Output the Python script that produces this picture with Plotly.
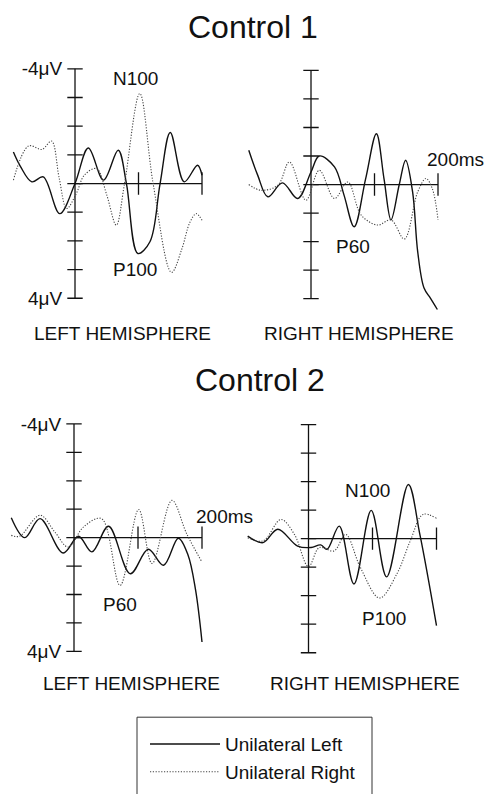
import plotly.graph_objects as go

W, H = 488, 794
FONT = "Liberation Sans, Arial, Helvetica, sans-serif"

# ---------------- data (time in ms, amplitude in µV; negative plotted up) ----
YTICKS = [-4, -3, -2, -1, 0, 1, 2, 3, 4]
YTICK_LABELS = ["-4\u03bcV", "4\u03bcV"]
XTICKS = [100, 200]
X_AXIS_SPAN = [0, 200]

# Control 1 - left hemisphere
C1L_LEFT_T = [-97, -86, -68, -50, -24, 0, 21, 45, 68, 81, 99, 118, 134, 150, 172, 193, 200]
C1L_LEFT_V = [-1.1, -0.6, -0.06, -0.23, 1.05, 0.0, -1.24, -0.12, -1.16, 0.0, 2.44, 2.03, 0.0, -1.78, -0.06, -0.64, -0.29]
C1L_RIGHT_T = [-97, -73, -52, -37, -25, -13, 2, 15, 34, 50, 65, 78, 102, 123, 152, 168, 181, 191, 200]
C1L_RIGHT_V = [-0.12, -1.31, -1.19, -1.48, -0.2, 0.87, 0.35, -0.3, -0.52, 0.4, 1.45, 0.0, -3.14, 0.0, 3.1, 2.3, 1.35, 1.05, 1.28]

# Control 1 - right hemisphere
C1R_LEFT_T = [-98, -84, -68, -45, -21, 0, 13, 37, 52, 68, 86, 103, 115, 126, 139, 149, 160, 168, 178, 188, 199]
C1R_LEFT_V = [-1.2, -0.33, 0.43, -0.06, 0.49, -0.44, -1.0, -0.62, 0.37, 1.48, -0.2, -1.78, -0.2, 1.24, 0.0, -0.85, 0.26, 2.35, 3.63, 3.98, 4.38]
C1R_RIGHT_T = [-98, -79, -52, -34, -8, 13, 37, 58, 79, 105, 126, 147, 168, 181, 191, 200]
C1R_RIGHT_V = [0.0, 0.2, 0.02, -0.79, 0.55, -0.5, 0.49, -0.09, 1.07, 1.42, 1.24, 1.91, 0.26, -0.21, 0.14, 1.24]

# Control 2 - left hemisphere
C2L_LEFT_T = [-98, -77, -53, -17, 7, 28, 54, 88, 116, 140, 163, 178, 190, 200]
C2L_LEFT_V = [-0.7, 0.0, -0.67, 0.54, -0.05, 0.5, -0.4, 1.27, 0.41, 0.97, 0.02, 0.6, 1.85, 3.67]
C2L_RIGHT_T = [-98, -85, -53, -30, -9, 15, 43, 72, 101, 122, 153, 176, 200]
C2L_RIGHT_V = [-0.08, -0.05, -0.79, -0.2, 0.33, -0.38, -0.67, 1.68, -0.99, 0.91, -1.31, -0.14, 0.86]

# Control 2 - right hemisphere
C2R_LEFT_T = [-95, -71, -48, -17, 4, 19, 29, 48, 71, 98, 122, 156, 174, 200]
C2R_LEFT_V = [-0.09, 0.14, -0.33, 0.26, 0.31, 0.22, 0.37, -0.44, 1.59, -0.99, 1.34, -1.9, -0.15, 3.05]
C2R_RIGHT_T = [-95, -71, -43, -22, 0, 17, 40, 58, 81, 111, 138, 159, 179, 200]
C2R_RIGHT_V = [-0.03, 0.08, -0.67, -0.15, 0.98, 0.31, 0.43, -0.15, 1.01, 2.08, 1.24, 0.08, -0.85, -0.71]

SERIES_NAMES = ["Unilateral Left", "Unilateral Right"]

# ---------------- layout (pixel geometry of each panel) ---------------------
X_RANGE = [-105, 205]
Y_RANGE = [4.5, -4.3]

# (x of 0 ms, px per ms, y of 0 µV, px per µV)
PANELS = [
    dict(x0=75.0, sx=0.635, y0=182.0, sy=28.75, left=True,
         data=[(C1L_LEFT_T, C1L_LEFT_V), (C1L_RIGHT_T, C1L_RIGHT_V)]),
    dict(x0=311.0, sx=0.635, y0=183.0, sy=28.6, left=False,
         data=[(C1R_LEFT_T, C1R_LEFT_V), (C1R_RIGHT_T, C1R_RIGHT_V)]),
    dict(x0=74.0, sx=0.64, y0=537.0, sy=28.5, left=True,
         data=[(C2L_LEFT_T, C2L_LEFT_V), (C2L_RIGHT_T, C2L_RIGHT_V)]),
    dict(x0=308.5, sx=0.64, y0=538.0, sy=28.6, left=False,
         data=[(C2R_LEFT_T, C2R_LEFT_V), (C2R_RIGHT_T, C2R_RIGHT_V)]),
]

LINE_STYLES = [dict(color="#111111", width=1.4, dash="solid"),
               dict(color="#444444", width=1.1, dash="1.2px,1.6px")]

fig = go.Figure()
layout_axes = {}

for i, p in enumerate(PANELS, start=1):
    xa = "x" if i == 1 else f"x{i}"
    ya = "y" if i == 1 else f"y{i}"
    px_left = p["x0"] + X_RANGE[0] * p["sx"]
    px_right = p["x0"] + X_RANGE[1] * p["sx"]
    py_top = p["y0"] + Y_RANGE[1] * p["sy"]
    py_bot = p["y0"] + Y_RANGE[0] * p["sy"]
    xdom = [px_left / W, px_right / W]
    ydom = [1 - py_bot / H, 1 - py_top / H]

    layout_axes["xaxis" if i == 1 else f"xaxis{i}"] = dict(
        domain=xdom, range=X_RANGE, visible=False, fixedrange=True,
        anchor=ya)
    layout_axes["yaxis" if i == 1 else f"yaxis{i}"] = dict(
        domain=ydom, range=Y_RANGE, anchor="free",
        position=p["x0"] / W,
        showgrid=False, zeroline=False, showline=False,
        ticks="outside", ticklen=9, tickcolor="rgba(0,0,0,0)",
        tickvals=[YTICKS[0], YTICKS[-1]], ticktext=YTICK_LABELS,
        showticklabels=p["left"],
        tickfont=dict(family=FONT, size=19, color="#111"),
        fixedrange=True)

    # axis cross: vertical amplitude axis and horizontal time axis
    fig.add_trace(go.Scatter(x=[0, 0], y=[YTICKS[0], YTICKS[-1]], mode="lines",
                             line=dict(color="#111", width=1.3),
                             xaxis=xa, yaxis=ya, showlegend=False, hoverinfo="skip"))
    fig.add_trace(go.Scatter(x=X_AXIS_SPAN, y=[0, 0], mode="lines",
                             line=dict(color="#111", width=1.3),
                             xaxis=xa, yaxis=ya, showlegend=False, hoverinfo="skip"))
    fig.add_trace(go.Scatter(x=[0] * len(YTICKS), y=YTICKS, mode="markers",
                             marker=dict(symbol="line-ew", size=11,
                                         line=dict(color="#111", width=1.3)),
                             xaxis=xa, yaxis=ya, showlegend=False, hoverinfo="skip"))
    fig.add_trace(go.Scatter(x=XTICKS, y=[0] * len(XTICKS), mode="markers",
                             marker=dict(symbol="line-ns", size=16,
                                         line=dict(color="#111", width=1.3)),
                             xaxis=xa, yaxis=ya, showlegend=False, hoverinfo="skip"))

    for k, (t, v) in enumerate(p["data"]):
        fig.add_trace(go.Scatter(
            x=t, y=v, mode="lines", name=SERIES_NAMES[k],
            line=dict(shape="spline", smoothing=1.0, **LINE_STYLES[k]),
            xaxis=xa, yaxis=ya, legendgroup=SERIES_NAMES[k],
            showlegend=(i == 1)))


def ann(text, x, y, size=19):
    return dict(text=text, x=x / W, y=1 - y / H, xref="paper", yref="paper",
                showarrow=False, xanchor="center", yanchor="middle",
                font=dict(family=FONT, size=size, color="#111"))


annotations = [
    ann("Control 1", 253, 25, 32),
    ann("Control 2", 260, 379, 32),
    ann("N100", 135.5, 77),
    ann("P100", 134.5, 268),
    ann("P60", 353, 245),
    ann("200ms", 455, 158),
    ann("LEFT HEMISPHERE", 122.5, 332),
    ann("RIGHT HEMISPHERE", 359, 332),
    ann("200ms", 224.5, 516),
    ann("P60", 120, 604),
    ann("N100", 367, 490),
    ann("P100", 384, 618),
    ann("LEFT HEMISPHERE", 131, 683),
    ann("RIGHT HEMISPHERE", 365, 683),
]

# legend frame (bottom edge runs off the page, as in the original)
shapes = [dict(type="rect", xref="paper", yref="paper",
               x0=137 / W, x1=372 / W, y0=1 - 797 / H, y1=1 - 717 / H,
               line=dict(color="#333", width=1), fillcolor="rgba(0,0,0,0)")]

fig.update_layout(
    width=W, height=H, autosize=False,
    margin=dict(l=0, r=0, t=0, b=0, pad=0),
    paper_bgcolor="white", plot_bgcolor="rgba(0,0,0,0)",
    annotations=annotations,
    shapes=shapes,
    showlegend=True,
    legend=dict(x=145 / W, y=1 - 725 / H, xanchor="left", yanchor="top",
                borderwidth=0, bgcolor="rgba(0,0,0,0)",
                font=dict(family=FONT, size=19, color="#111"),
                itemwidth=70, tracegroupgap=0),
    **layout_axes,
)

fig.write_html("out.html")
